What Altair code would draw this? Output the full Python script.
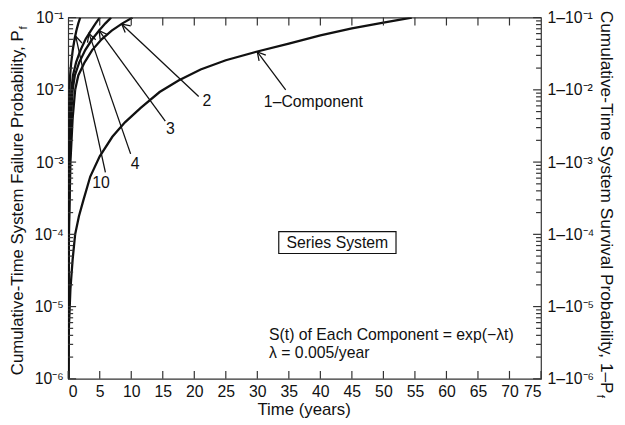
import altair as alt
import pandas as pd

# ---------------- values ----------------
x_ticks = [0, 5, 10, 15, 20, 25, 30, 35, 40, 45, 50, 55, 60, 65, 70, 75]
x_top_ticks = [5, 10, 15, 20, 25, 30, 35, 40, 45, 50, 55, 60, 65, 70]
y_major = [1e-6, 1e-5, 1e-4, 1e-3, 1e-2, 1e-1]
y_left_labels = ["10⁻⁶", "10⁻⁵", "10⁻⁴", "10⁻³", "10⁻²", "10⁻¹"]
y_right_labels = ["1–10⁻⁶", "1–10⁻⁵", "1–10⁻⁴", "1–10⁻³", "1–10⁻²", "1–10⁻¹"]
y_minor = [m * d for d in [1e-6, 1e-5, 1e-4, 1e-3, 1e-2] for m in [2, 3, 4, 5, 6, 7, 8, 9]]

series_names = ["1", "2", "3", "4", "10"]
t_1 = [0.0, 0.1, 0.35, 0.7, 1.1, 1.7, 2.4, 3.5, 5.0, 7.0, 9.0, 11.5, 14.5, 17.5, 21.0, 25.0,
       30.0, 35.0, 40.0, 45.0, 50.0, 54.5]
p_1 = [1.0e-6, 5.0e-6, 1.74e-5, 4.47e-5, 1.0e-4, 1.78e-4, 2.95e-4, 6.31e-4, 1.20e-3, 2.24e-3,
       3.55e-3, 5.62e-3, 9.33e-3, 1.35e-2, 1.91e-2, 2.57e-2, 3.39e-2, 4.37e-2, 5.69e-2, 7.08e-2,
       8.51e-2, 1.0e-1]
p_n = [1e-6, 1e-5, 1e-4, 1e-3, 3.98e-3, 1e-2, 1.58e-2, 2.40e-2, 3.55e-2, 5.01e-2, 6.61e-2,
       8.32e-2, 1e-1]
t_2 = [0.0, 0.03, 0.12, 0.35, 0.7, 1.1, 1.6, 2.6, 3.8, 5.3, 6.9, 8.6, 10.2]
t_3 = [0.0, 0.02, 0.08, 0.25, 0.45, 0.7, 1.05, 1.75, 2.7, 3.8, 4.9, 5.9, 6.8]
t_4 = [0.0, 0.015, 0.06, 0.18, 0.32, 0.5, 0.75, 1.25, 1.95, 2.75, 3.6, 4.35, 5.0]
t_10 = [0.0, 0.005, 0.02, 0.06, 0.11, 0.19, 0.3, 0.48, 0.72, 1.0, 1.3, 1.6, 1.9]

label_text = ["1–Component", "2", "3", "4", "10"]
label_t = [38.9, 22.0, 16.2, 10.6, 5.2]
label_p = [6.7e-3, 6.9e-3, 2.9e-3, 9.5e-4, 5.2e-4]
arrow_tail_t = [34.5, 20.7, 15.4, 9.9, 5.9]
arrow_tail_p = [1.0e-2, 8.1e-3, 3.7e-3, 1.3e-3, 7.2e-4]
arrow_tip_t = [30.0, 8.5, 4.9, 3.3, 1.2]
arrow_tip_p = [3.35e-2, 8.1e-2, 6.6e-2, 6.0e-2, 5.5e-2]
arrow_angle = [320, 309, 324, 341, 346]

box_t = [33.4, 52.0]
box_p = [5.43e-5, 1.09e-4]
box_text = "Series System"
box_text_t = 42.7
box_text_p = 7.67e-5
note_lines = ["S(t) of Each Component = exp(−λt)", "λ = 0.005/year"]
note_t = [31.85, 31.85]
note_p = [3.99e-6, 2.26e-6]

# ---------------- tables ----------------
rows = []
for name, ts, ps in zip(series_names, [t_1, t_2, t_3, t_4, t_10], [p_1, p_n, p_n, p_n, p_n]):
    for i, (t, p) in enumerate(zip(ts, ps)):
        rows.append({"series": name, "t": t, "p": p, "i": i})
curves = pd.DataFrame(rows)

arrows = pd.DataFrame({"t0": arrow_tail_t, "p0": arrow_tail_p, "t1": arrow_tip_t,
                       "p1": arrow_tip_p, "ang": arrow_angle})
labels = pd.DataFrame({"txt": label_text, "t": label_t, "p": label_p})
box = pd.DataFrame({"t0": [box_t[0]], "t1": [box_t[1]], "p0": [box_p[0]], "p1": [box_p[1]],
                    "txt": [box_text], "tc": [box_text_t], "pc": [box_text_p]})
notes = pd.DataFrame({"txt": note_lines, "t": note_t, "p": note_p})
one = pd.DataFrame({"a": [0]})
xb = pd.DataFrame({"t": x_ticks})
xt = pd.DataFrame({"t": x_top_ticks})
yM = pd.DataFrame({"p": y_major})
ym = pd.DataFrame({"p": y_minor})

FONT = "Liberation Sans"
INK = "#111111"
AX = "#333333"
W, H = 479, 366
MAJ, MIN = 8, 5

xs = alt.Scale(domain=[0, 75], nice=False, zero=False)
ys = alt.Scale(type="log", domain=[1e-6, 1e-1], nice=False)


def build_expr(labs):
    parts = []
    for v, lab in zip(y_major[:-1], labs[:-1]):
        parts.append(f"datum.value < {v * 3} ? '{lab}' : ")
    return "".join(parts) + f"'{labs[-1]}'"


common_axis = dict(domain=False, grid=False, title=None, ticks=False,
                   labelFont=FONT, labelColor=INK, labelFontSize=16)

lines = alt.Chart(curves).mark_line(color=INK, strokeWidth=2.3, clip=True).encode(
    x=alt.X("t:Q", scale=xs, axis=alt.Axis(orient="bottom", values=x_ticks, labelPadding=5,
                                           **common_axis)),
    y=alt.Y("p:Q", scale=ys, axis=alt.Axis(orient="left", values=y_major, labelPadding=5,
                                           labelExpr=build_expr(y_left_labels), **common_axis)),
    detail="series:N",
    order="i:Q",
)
axis_right = alt.Chart(curves).mark_point(opacity=0, size=1).encode(
    y=alt.Y("p:Q", scale=ys, axis=alt.Axis(orient="right", values=y_major, labelPadding=6,
                                           labelExpr=build_expr(y_right_labels), **common_axis)),
)

# tick marks (pointing inward)
tk = dict(color=AX, strokeWidth=1.2)
tick_layers = [
    alt.Chart(xb).mark_tick(color=AX, thickness=1.2, size=MAJ, orient="vertical", opacity=1).encode(
        x=alt.X("t:Q", scale=xs, axis=None), y=alt.value(H - MAJ / 2)),
    alt.Chart(xt).mark_tick(color=AX, thickness=1.2, size=MAJ, orient="vertical", opacity=1).encode(
        x=alt.X("t:Q", scale=xs, axis=None), y=alt.value(MAJ / 2)),
    alt.Chart(yM).mark_rule(**tk).encode(y=alt.Y("p:Q", scale=ys, axis=None),
                                         x=alt.value(0), x2=alt.value(MAJ)),
    alt.Chart(yM).mark_rule(**tk).encode(y=alt.Y("p:Q", scale=ys, axis=None),
                                         x=alt.value(W - MAJ), x2=alt.value(W)),
    alt.Chart(ym).mark_rule(**tk).encode(y=alt.Y("p:Q", scale=ys, axis=None),
                                         x=alt.value(0), x2=alt.value(MIN)),
    alt.Chart(ym).mark_rule(**tk).encode(y=alt.Y("p:Q", scale=ys, axis=None),
                                         x=alt.value(W - MIN), x2=alt.value(W)),
]

arrow_lines = alt.Chart(arrows).mark_rule(color=INK, strokeWidth=1.3).encode(
    x=alt.X("t0:Q", scale=xs, axis=None), x2="t1:Q",
    y=alt.Y("p0:Q", scale=ys, axis=None), y2="p1:Q",
)
arrow_heads = alt.Chart(arrows).mark_point(
    shape="M-0.55,1 L0,0 L0.55,1", filled=False, color=INK, strokeWidth=1.3, size=260, opacity=1
).encode(
    x=alt.X("t1:Q", scale=xs, axis=None),
    y=alt.Y("p1:Q", scale=ys, axis=None),
    angle=alt.Angle("ang:Q", scale=None),
)
label_marks = alt.Chart(labels).mark_text(font=FONT, fontSize=16, color=INK, baseline="middle").encode(
    x=alt.X("t:Q", scale=xs, axis=None),
    y=alt.Y("p:Q", scale=ys, axis=None),
    text="txt:N",
)
box_rect = alt.Chart(box).mark_rect(fill="white", stroke=INK, strokeWidth=1.2).encode(
    x=alt.X("t0:Q", scale=xs, axis=None), x2="t1:Q",
    y=alt.Y("p0:Q", scale=ys, axis=None), y2="p1:Q",
)
box_label = alt.Chart(box).mark_text(font=FONT, fontSize=16, color=INK, baseline="middle").encode(
    x=alt.X("tc:Q", scale=xs, axis=None),
    y=alt.Y("pc:Q", scale=ys, axis=None),
    text="txt:N",
)
note_marks = alt.Chart(notes).mark_text(font=FONT, fontSize=16, color=INK, align="left",
                                         baseline="middle").encode(
    x=alt.X("t:Q", scale=xs, axis=None),
    y=alt.Y("p:Q", scale=ys, axis=None),
    text="txt:N",
)

# axis titles as text
x_title = alt.Chart(one).mark_text(text="Time (years)", font=FONT, fontSize=17, color=INK,
                                   baseline="middle").encode(
    x=alt.value(239), y=alt.value(398))
left_title = alt.Chart(one).mark_text(text="Cumulative-Time System Failure Probability, P", font=FONT,
                                      fontSize=17, color=INK, angle=270, align="right",
                                      baseline="middle").encode(
    x=alt.value(-51), y=alt.value(13))
left_sub = alt.Chart(one).mark_text(text="f", font=FONT, fontSize=12, color=INK, angle=270,
                                    align="left", baseline="middle").encode(
    x=alt.value(-46), y=alt.value(12))
right_title = alt.Chart(one).mark_text(text="Cumulative-Time System Survival Probability, 1–P",
                                       font=FONT, fontSize=17.5, color=INK, angle=90, align="right",
                                       baseline="middle").encode(
    x=alt.value(545), y=alt.value(381))
right_sub = alt.Chart(one).mark_text(text="f", font=FONT, fontSize=12, color=INK, angle=90,
                                     align="left", baseline="middle").encode(
    x=alt.value(540), y=alt.value(382))

chart = alt.layer(
    lines, axis_right, *tick_layers,
    arrow_lines, arrow_heads, label_marks, box_rect, box_label, note_marks,
    x_title, left_title, left_sub, right_title, right_sub,
).resolve_axis(x="independent", y="independent").properties(
    width=W, height=H,
    autosize=alt.AutoSizeParams(type="none"),
    padding={"left": 61, "top": 7, "right": 77, "bottom": 40},
).configure_view(stroke=AX, strokeWidth=1.2)

chart.save("out.html", embed_options={"renderer": "svg", "actions": False})
